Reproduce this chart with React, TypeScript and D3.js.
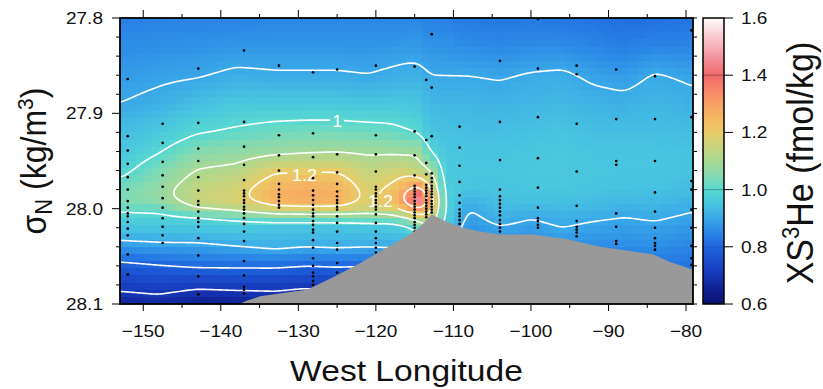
import React, { useMemo } from "react";
import * as d3 from "d3";

// ---------------- data ----------------
// gridded XS3He (fmol/kg): one vertical profile per grid longitude, values at gridSigma levels
const gridLon = [-153, -148, -143, -138, -133, -129, -125, -121, -118, -116, -114.5, -113, -111, -108, -104, -100, -96, -92, -88, -84, -79];
const gridSigma = [27.8, 27.83, 27.86, 27.89, 27.92, 27.94, 27.96, 27.98, 27.99, 28.0, 28.01, 28.02, 28.04, 28.06, 28.08, 28.1];
const xs3heProfiles = [
  [0.84, 0.86, 0.88, 0.9, 0.935, 0.955, 0.98, 1.03, 1.04, 1.015, 0.975, 0.95, 0.875, 0.78, 0.72, 0.66],
  [0.845, 0.865, 0.89, 0.915, 0.96, 0.995, 1.04, 1.075, 1.07, 1.02, 0.98, 0.95, 0.885, 0.795, 0.73, 0.67],
  [0.845, 0.87, 0.895, 0.94, 0.995, 1.05, 1.105, 1.145, 1.15, 1.1, 0.985, 0.955, 0.885, 0.81, 0.715, 0.645],
  [0.845, 0.875, 0.91, 0.96, 1.01, 1.065, 1.12, 1.17, 1.175, 1.13, 1.01, 0.96, 0.9, 0.81, 0.72, 0.65],
  [0.85, 0.875, 0.905, 0.96, 1.025, 1.08, 1.19, 1.26, 1.265, 1.17, 1.04, 0.95, 0.915, 0.81, 0.72, 0.66],
  [0.85, 0.875, 0.905, 0.96, 1.03, 1.09, 1.195, 1.275, 1.28, 1.18, 1.04, 0.95, 0.905, 0.8, 0.71, 0.65],
  [0.85, 0.875, 0.905, 0.96, 1.03, 1.095, 1.195, 1.265, 1.27, 1.18, 1.04, 0.95, 0.91, 0.805, 0.72, 0.66],
  [0.85, 0.875, 0.9, 0.955, 1.025, 1.09, 1.14, 1.175, 1.18, 1.15, 1.05, 0.955, 0.905, 0.8, 0.72, 0.66],
  [0.85, 0.875, 0.91, 0.955, 1.02, 1.09, 1.155, 1.22, 1.235, 1.18, 1.05, 0.96, 0.905, 0.83, 0.76, 0.7],
  [0.85, 0.88, 0.915, 0.955, 1.005, 1.085, 1.165, 1.295, 1.335, 1.26, 1.085, 0.98, 0.9, 0.83, 0.76, 0.7],
  [0.85, 0.88, 0.915, 0.95, 0.995, 1.09, 1.13, 1.34, 1.47, 1.3, 1.14, 1.03, 0.93, 0.85, 0.78, 0.72],
  [0.84, 0.87, 0.9, 0.93, 0.95, 0.995, 1.105, 1.22, 1.265, 1.24, 1.17, 1.08, 0.97, 0.87, 0.8, 0.74],
  [0.84, 0.87, 0.9, 0.925, 0.945, 0.955, 0.96, 0.975, 0.98, 0.985, 0.98, 0.96, 0.93, 0.86, 0.8, 0.74],
  [0.83, 0.86, 0.9, 0.925, 0.94, 0.95, 0.955, 0.95, 0.92, 0.9, 0.885, 0.87, 0.85, 0.82, 0.78, 0.74],
  [0.83, 0.855, 0.895, 0.92, 0.94, 0.95, 0.955, 0.95, 0.945, 0.935, 0.92, 0.895, 0.86, 0.83, 0.79, 0.75],
  [0.83, 0.86, 0.905, 0.925, 0.945, 0.955, 0.96, 0.955, 0.945, 0.925, 0.9, 0.885, 0.86, 0.83, 0.79, 0.75],
  [0.825, 0.86, 0.91, 0.93, 0.95, 0.96, 0.96, 0.955, 0.945, 0.93, 0.915, 0.9, 0.87, 0.84, 0.8, 0.76],
  [0.82, 0.85, 0.89, 0.92, 0.94, 0.95, 0.955, 0.95, 0.94, 0.925, 0.905, 0.89, 0.86, 0.83, 0.79, 0.75],
  [0.81, 0.84, 0.88, 0.915, 0.94, 0.95, 0.955, 0.945, 0.93, 0.915, 0.898, 0.885, 0.86, 0.83, 0.79, 0.75],
  [0.815, 0.85, 0.905, 0.925, 0.94, 0.95, 0.955, 0.945, 0.935, 0.92, 0.905, 0.89, 0.86, 0.83, 0.79, 0.75],
  [0.82, 0.85, 0.89, 0.915, 0.935, 0.945, 0.945, 0.935, 0.92, 0.905, 0.89, 0.875, 0.85, 0.82, 0.79, 0.75],
];

// sampling stations (longitude) and the sigma_N of each sample
const stationLon = [-152.0, -147.5, -142.9, -137.0, -132.5, -128.1, -125.0, -120.0, -115.0, -113.5, -112.8, -109.2, -104.0, -99.1, -94.1, -89.0, -84.0, -79.3];
const stationSigma = [
  [27.864, 27.924, 27.939, 27.953, 27.967, 27.98, 27.992, 27.999, 28.005, 28.008, 28.014, 28.021, 28.028, 28.048, 28.069],
  [27.911, 27.931, 27.951, 27.965, 27.977, 27.989, 27.999, 28.01, 28.019, 28.028, 28.036],
  [27.853, 27.91, 27.937, 27.95, 27.967, 27.981, 27.992, 27.996, 28.003, 28.01, 28.014, 28.019, 28.031, 28.049, 28.071, 28.09],
  [27.834, 27.909, 27.935, 27.954, 27.97, 27.981, 27.984, 27.987, 27.991, 27.994, 27.998, 28.001, 28.005, 28.01, 28.016, 28.024, 28.034, 28.055, 28.07, 28.082, 28.085, 28.089],
  [27.85, 27.923, 27.944, 27.96, 27.974, 27.98, 27.985, 27.988, 27.992, 27.996, 27.999],
  [27.857, 27.921, 27.946, 27.968, 27.981, 27.986, 27.991, 27.996, 28.001, 28.005, 28.008, 28.013, 28.017, 28.022, 28.025, 28.033, 28.041, 28.052, 28.06, 28.067, 28.071, 28.076, 28.08],
  [27.854, 27.943, 27.962, 27.974, 27.982, 27.987, 27.991, 27.994, 27.998, 28.001, 28.008, 28.015, 28.024, 28.036, 28.043, 28.057, 28.067],
  [27.85, 27.923, 27.943, 27.961, 27.977, 27.98, 27.984, 27.987, 27.991, 27.994, 27.998, 28.001, 28.006, 28.015, 28.024, 28.031, 28.036, 28.041, 28.046],
  [27.851, 27.919, 27.944, 27.965, 27.976, 27.979, 27.982, 27.985, 27.988, 27.992, 27.995, 27.998, 28.001, 28.004, 28.007, 28.01, 28.014, 28.017, 28.02, 28.024],
  [27.865, 27.928, 27.952, 27.964, 27.975, 27.978, 27.981, 27.984, 27.987, 27.991, 27.994, 27.997, 28.0, 28.003, 28.006, 28.009],
  [27.817, 27.873, 27.924, 27.963, 27.968, 27.972, 27.976, 27.979, 27.982, 27.985, 27.988, 27.992, 27.995, 27.998, 28.001, 28.004],
  [27.914, 27.936, 27.955, 27.972, 27.986, 27.994, 28.001, 28.005, 28.008, 28.012, 28.016],
  [27.845, 27.909, 27.949, 27.98, 27.987, 27.991, 27.995, 27.999, 28.003, 28.007, 28.012, 28.016, 28.02, 28.024],
  [27.801, 27.853, 27.904, 27.947, 27.978, 27.999, 28.01, 28.013, 28.017, 28.02],
  [27.85, 27.859, 27.911, 27.961, 27.997, 28.013, 28.019, 28.022, 28.025, 28.029],
  [27.854, 27.906, 27.95, 27.954, 28.005, 28.019, 28.034, 28.037],
  [27.861, 27.906, 27.95, 27.983, 28.003, 28.02, 28.031, 28.036, 28.039, 28.043],
  [27.813, 27.904, 27.971, 27.98, 28.001, 28.02, 28.039, 28.052, 28.059],
];

// seafloor (topography) outline in density space
const topoLon = [-137.6, -136.5, -134.9, -131.5, -128.9, -125.5, -122.0, -118.6, -115.2, -114.3, -112.8, -110.8, -108.8, -106.6, -104.0, -99.7, -95.4, -91.1, -86.8, -84.2, -82.4, -79.1];
const topoSigma = [28.1, 28.096, 28.092, 28.088, 28.085, 28.072, 28.057, 28.041, 28.025, 28.019, 28.006, 28.014, 28.02, 28.024, 28.027, 28.027, 28.032, 28.04, 28.045, 28.048, 28.055, 28.064];

const contourLevels = [0.7, 0.8, 0.9, 1.0, 1.1, 1.2, 1.3, 1.4];
const contourLabelText = ["1", "1.2", "1.2"];
const contourLabelLon = [-125.0, -129.2, -119.4];
const contourLabelSigma = [27.909, 27.966, 27.993];

const lonTicks = [-150, -140, -130, -120, -110, -100, -90, -80];
const lonMinorTicks = [-145, -135, -125, -115, -105, -95, -85];
const sigmaTicks = [27.8, 27.9, 28.0, 28.1];
const sigmaMinorTicks = [27.82, 27.84, 27.86, 27.88, 27.92, 27.94, 27.96, 27.98, 28.02, 28.04, 28.06, 28.08];
const colorbarTicks = [0.6, 0.8, 1.0, 1.2, 1.4, 1.6];

const colorStops = [0.6, 0.65, 0.7, 0.75, 0.8, 0.85, 0.9, 0.95, 1.0, 1.05, 1.1, 1.15, 1.2, 1.25, 1.3, 1.35, 1.4, 1.45, 1.5, 1.55, 1.6];
const colorValues = ["#0a1070", "#0f2090", "#1636b6", "#1a4ccc", "#1f66de", "#2a86e6", "#3aa8e8", "#48c4e0", "#58d8d0", "#86dab0", "#a8d894", "#c8d47c", "#e8cc68", "#f4b862", "#f8a064", "#f88468", "#f06a6c", "#f28a94", "#f6b0b8", "#fad6da", "#fefafa"];

// ---------------- layout ----------------
const W = 823, H = 389;
const X0 = 120, X1 = 693, Y0 = 18, Y1 = 304;
const CB0 = 703, CB1 = 724;
const FONT = "'Liberation Sans', Arial, Helvetica, sans-serif";
const SX = 1.12;

const x = d3.scaleLinear().domain([-153, -79.1]).range([X0, X1]);
const y = d3.scaleLinear().domain([27.8, 28.1]).range([Y0, Y1]);
const cbY = d3.scaleLinear().domain([0.6, 1.6]).range([Y1, Y0]);
const color = d3.scaleLinear<string>().domain(colorStops).range(colorValues).interpolate(d3.interpolateRgb).clamp(true);

function clamp(v: number, a: number, b: number) { return Math.max(a, Math.min(b, v)); }

function sample(lon: number, sig: number) {
  const i = clamp(d3.bisectRight(gridLon, lon) - 1, 0, gridLon.length - 2);
  const j = clamp(d3.bisectRight(gridSigma, sig) - 1, 0, gridSigma.length - 2);
  const t = clamp((lon - gridLon[i]) / (gridLon[i + 1] - gridLon[i]), 0, 1);
  const u = clamp((sig - gridSigma[j]) / (gridSigma[j + 1] - gridSigma[j]), 0, 1);
  const a = xs3heProfiles[i][j], b = xs3heProfiles[i + 1][j];
  const c = xs3heProfiles[i][j + 1], d = xs3heProfiles[i + 1][j + 1];
  return (1 - t) * (1 - u) * a + t * (1 - u) * b + (1 - t) * u * c + t * u * d;
}

export default function App() {
  const cells = useMemo(() => {
    const NX = 72, NY = 40;
    const cw = (X1 - X0) / NX, ch = (Y1 - Y0) / NY;
    const out: { x: number; y: number; w: number; h: number; fill: string }[] = [];
    for (let j = 0; j < NY; j++) {
      for (let i = 0; i < NX; i++) {
        const px = X0 + (i + 0.5) * cw, py = Y0 + (j + 0.5) * ch;
        const v = sample(x.invert(px), y.invert(py));
        out.push({ x: X0 + i * cw, y: Y0 + j * ch, w: cw + 0.6, h: ch + 0.6, fill: color(v) });
      }
    }
    return out;
  }, []);

  const contourPaths = useMemo(() => {
    const STEP = 2, PAD = 6;
    const gw = Math.ceil((X1 - X0) / STEP) + 2 * PAD;
    const gh = Math.ceil((Y1 - Y0) / STEP) + 2 * PAD;
    const vals = new Float64Array(gw * gh);
    for (let j = 0; j < gh; j++) {
      for (let i = 0; i < gw; i++) {
        const px = X0 + (i - PAD + 0.5) * STEP;
        const py = Y0 + (j - PAD + 0.5) * STEP;
        vals[j * gw + i] = sample(x.invert(px), y.invert(py));
      }
    }
    const anyD3 = d3 as any;
    if (anyD3.blur2) anyD3.blur2({ data: vals, width: gw, height: gh }, 1.5);
    const cs = d3.contours().size([gw, gh]).thresholds(contourLevels)(Array.from(vals));
    const proj = d3.geoTransform({
      point: function (px: number, py: number) {
        (this as any).stream.point(X0 + (px - PAD) * STEP, Y0 + (py - PAD) * STEP);
      },
    });
    const path = d3.geoPath(proj);
    return cs.map((c) => path(c as any) || "");
  }, []);

  const topoPath = useMemo(() => {
    const pts: [number, number][] = [[x(topoLon[0]), y(28.1)]];
    topoLon.forEach((lon, k) => pts.push([x(lon), y(topoSigma[k])]));
    pts.push([x(-79.1), y(28.1)]);
    return d3.line()(pts) + "Z";
  }, []);

  const labels = contourLabelText.map((t, k) => ({
    t,
    x: x(contourLabelLon[k]),
    y: y(contourLabelSigma[k]),
    w: t.length * 9 * SX + 4,
  }));

  const txt = (key: any, tx: number, ty: number, s: string, anchor: string, size: number, extra: any = {}) => (
    <text key={key} transform={`translate(${tx},${ty}) scale(${SX},1)`} textAnchor={anchor} fontSize={size} fontFamily={FONT} fill="#111" {...extra}>
      {s}
    </text>
  );

  const fmt = (v: number) => (v < 0 ? "\u2212" + Math.abs(v) : String(v));

  return (
    <svg width={W} height={H} style={{ position: "absolute", left: 0, top: 0, background: "#fff" }} xmlns="http://www.w3.org/2000/svg">
      <defs>
        <clipPath id="plotClip">
          <rect x={X0} y={Y0} width={X1 - X0} height={Y1 - Y0} />
        </clipPath>
        <mask id="labelMask" maskUnits="userSpaceOnUse" x={0} y={0} width={W} height={H}>
          <rect x={0} y={0} width={W} height={H} fill="#fff" />
          {labels.map((l, k) => (
            <rect key={k} x={l.x - l.w / 2} y={l.y - 8} width={l.w} height={16} fill="#000" />
          ))}
        </mask>
        <linearGradient id="cbGrad" x1="0" y1="1" x2="0" y2="0">
          {colorStops.map((s, k) => (
            <stop key={k} offset={(s - 0.6) / 1.0} stopColor={colorValues[k]} />
          ))}
        </linearGradient>
      </defs>

      {/* heat map */}
      <g clipPath="url(#plotClip)" shapeRendering="crispEdges">
        {cells.map((c, k) => (
          <rect key={k} x={c.x} y={c.y} width={c.w} height={c.h} fill={c.fill} />
        ))}
      </g>

      {/* contours */}
      <g clipPath="url(#plotClip)">
        <g mask="url(#labelMask)">
          {contourPaths.map((d, k) => (
            <path key={k} d={d} fill="none" stroke="#fff" strokeWidth={1.6} strokeLinejoin="round" />
          ))}
        </g>
        {labels.map((l, k) => (
          <text key={k} transform={`translate(${l.x},${l.y}) scale(${SX},1)`} textAnchor="middle" dominantBaseline="central" fontSize={16} fontFamily={FONT} fill="#fff">
            {l.t}
          </text>
        ))}
      </g>

      {/* sample dots */}
      <g clipPath="url(#plotClip)">
        {stationLon.map((lon, s) =>
          stationSigma[s].map((sg, k) => <circle key={s + "-" + k} cx={x(lon)} cy={y(sg)} r={1.35} fill="#000" />)
        )}
      </g>

      {/* topography */}
      <g clipPath="url(#plotClip)">
        <path d={topoPath} fill="#999999" stroke="none" />
      </g>

      {/* frame */}
      <rect x={X0} y={Y0} width={X1 - X0} height={Y1 - Y0} fill="none" stroke="#000" strokeWidth={1.8} />

      {/* longitude ticks */}
      {lonTicks.map((t) => (
        <g key={"lt" + t}>
          <line x1={x(t)} x2={x(t)} y1={Y1} y2={Y1 + 7} stroke="#000" strokeWidth={1} />
          <line x1={x(t)} x2={x(t)} y1={Y0} y2={Y0 - 8} stroke="#000" strokeWidth={1} />
          {txt("ltl" + t, x(t), 337, fmt(t), "middle", 17)}
        </g>
      ))}
      {lonMinorTicks.map((t) => (
        <g key={"lm" + t}>
          <line x1={x(t)} x2={x(t)} y1={Y1} y2={Y1 + 4} stroke="#000" strokeWidth={1} />
          <line x1={x(t)} x2={x(t)} y1={Y0} y2={Y0 - 4} stroke="#000" strokeWidth={1} />
        </g>
      ))}

      {/* sigma ticks */}
      {sigmaTicks.map((t) => (
        <g key={"st" + t}>
          <line x1={X0} x2={X0 - 8} y1={y(t)} y2={y(t)} stroke="#000" strokeWidth={1} />
          <line x1={X1} x2={X1 + 4} y1={y(t)} y2={y(t)} stroke="#000" strokeWidth={1} />
          {txt("stl" + t, 103, y(t) + 6, t.toFixed(1), "end", 17)}
        </g>
      ))}
      {sigmaMinorTicks.map((t) => (
        <g key={"sm" + t}>
          <line x1={X0} x2={X0 - 4} y1={y(t)} y2={y(t)} stroke="#000" strokeWidth={1} />
          <line x1={X1} x2={X1 + 4} y1={y(t)} y2={y(t)} stroke="#000" strokeWidth={1} />
        </g>
      ))}

      {/* axis titles */}
      {txt("xt", (X0 + X1) / 2, 381, "West Longitude", "middle", 30)}
      <text transform={`translate(46,${(Y0 + Y1) / 2}) rotate(-90) scale(1,1.08)`} textAnchor="middle" fontSize={32} fontFamily={FONT} fill="#111">
        σ<tspan fontSize={22} dy={6}>N</tspan>
        <tspan dy={-6}> (kg/m</tspan>
        <tspan fontSize={21} dy={-12}>3</tspan>
        <tspan dy={12}>)</tspan>
      </text>

      {/* colorbar */}
      <rect x={CB0} y={Y0} width={CB1 - CB0} height={Y1 - Y0} fill="url(#cbGrad)" />
      {[1.4, 1.0].map((v) => (
        <line key={"cl" + v} x1={CB0} x2={CB1} y1={cbY(v)} y2={cbY(v)} stroke="#000" strokeOpacity={0.3} strokeWidth={1} />
      ))}
      <line x1={CB0} x2={CB1} y1={cbY(0.8)} y2={cbY(0.8)} stroke="#000" strokeOpacity={0.12} strokeWidth={1} />
      <rect x={CB0} y={Y0} width={CB1 - CB0} height={Y1 - Y0} fill="none" stroke="#000" strokeWidth={1.5} />
      {colorbarTicks.map((t) => (
        <g key={"cb" + t}>
          <line x1={CB1} x2={CB1 + 9} y1={cbY(t)} y2={cbY(t)} stroke="#000" strokeWidth={1} />
          {txt("cbl" + t, 741, cbY(t) + 6, t.toFixed(1), "start", 17)}
        </g>
      ))}
      <text transform={`translate(813,${(Y0 + Y1) / 2 + 2}) rotate(-90) scale(1,1.08)`} textAnchor="middle" fontSize={34} fontFamily={FONT} fill="#111">
        XS<tspan fontSize={22} dy={-13}>3</tspan>
        <tspan dy={13}>He (fmol/kg)</tspan>
      </text>
    </svg>
  );
}
